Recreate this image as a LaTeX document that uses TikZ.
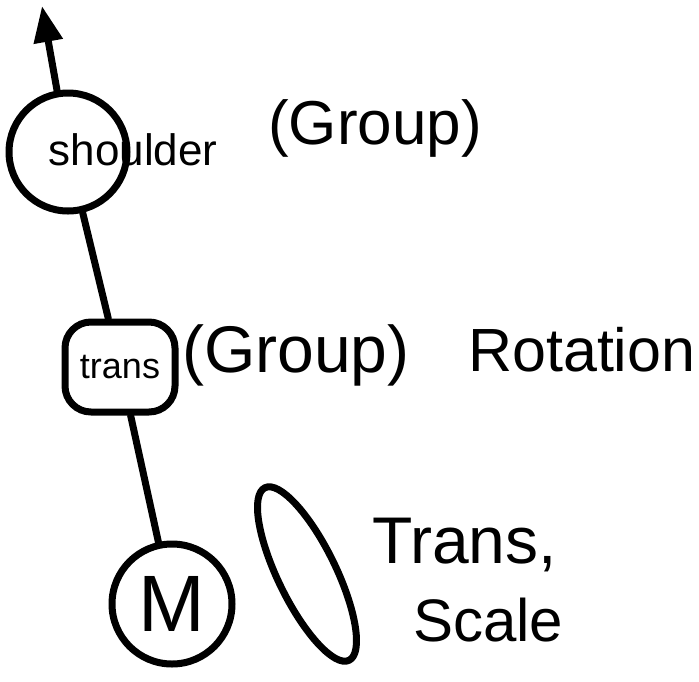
\documentclass[tikz,border=0pt]{standalone}
\usepackage{fontspec}
\setmainfont{Liberation Sans}
\usetikzlibrary{arrows.meta,shapes.geometric}
\begin{document}
\begin{tikzpicture}[x=1pt,y=-1pt,
  ink/.style={line width=7pt,black,line cap=round,line join=round},
  joint/.style={ink,draw,circle,inner sep=0pt},
  big/.style={font=\fontsize{62}{66}\selectfont,inner sep=0pt,anchor=west}]
\useasboundingbox (0,0) rectangle (699,681);
% nodes
\node[joint,minimum size=118pt] (shoulder) at (68,152) {};
\node[font=\fontsize{44}{46}\selectfont,inner sep=0pt] (shoulderlbl) at (133,150) {shoulder};
\node[ink,draw,rounded corners=26pt,minimum width=110pt,minimum height=90pt,inner sep=0pt,
      font=\fontsize{36}{38}\selectfont] (trans) at (120,367) {trans};
\node[joint,minimum size=120pt,font=\fontsize{80}{82}\selectfont] (M) at (172,604) {M};
\node[ink,draw,ellipse,minimum width=192pt,minimum height=58pt,rotate=-64] (mesh) at (307,574) {};
% labels
\node[big] (g1) at (268,128) {(Group)};
\node[big,font=\fontsize{66}{70}\selectfont] (g2) at (182,355) {(Group)};
\node[big,font=\fontsize{61}{66}\selectfont] (rot) at (468,350) {Rotation};
\node[big,font=\fontsize{66}{70}\selectfont] (tr) at (372,545) {Trans,};
\node[big,font=\fontsize{60}{64}\selectfont] (sc) at (413,620) {Scale};
% connectors
\coordinate (armtip) at (42,6);
\draw[ink,-{Triangle[length=36pt,width=28pt]}] (shoulder) -- (armtip);
\draw[ink] (shoulder) -- (trans);
\draw[ink] (trans) -- (M);
\end{tikzpicture}
\end{document}
